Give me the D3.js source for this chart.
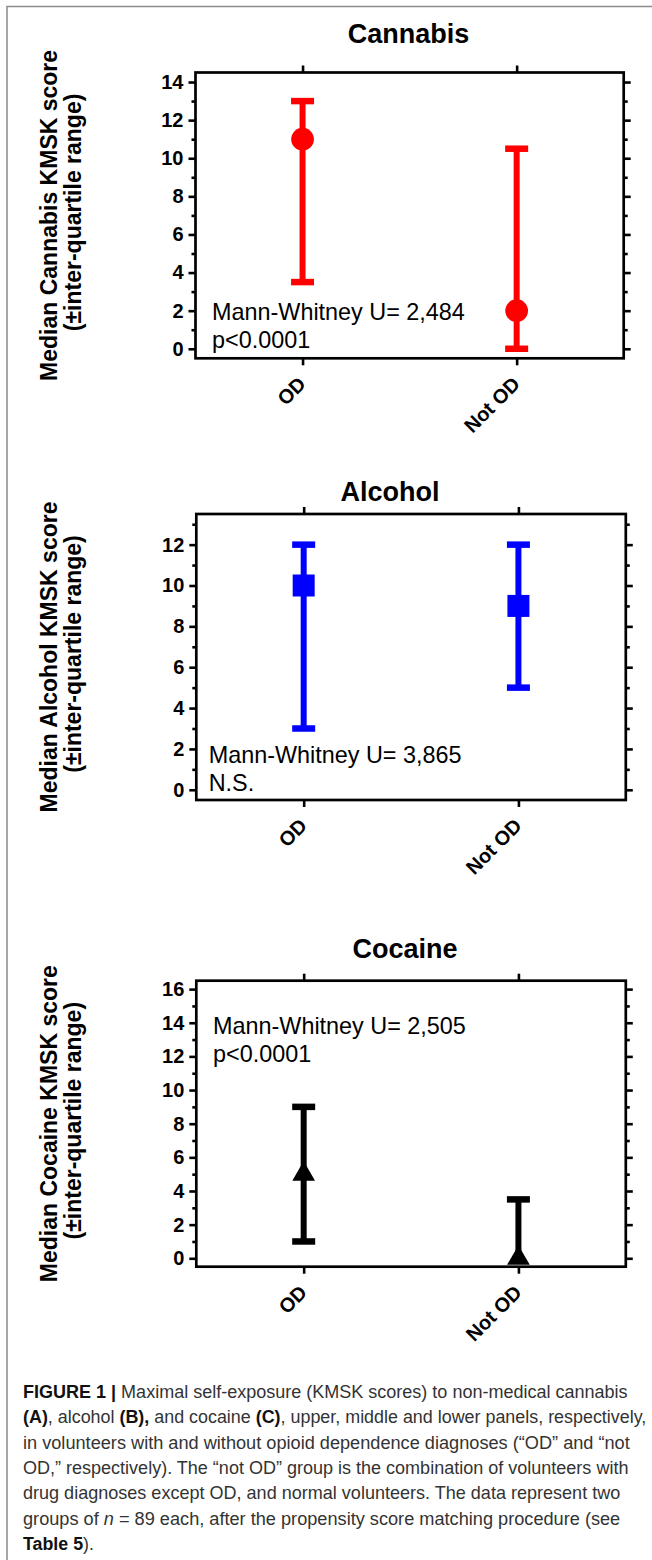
<!DOCTYPE html>
<html>
<head>
<meta charset="utf-8">
<script src="https://cdn.jsdelivr.net/npm/d3@7"></script>
<style>
  body { margin: 0; background: #fff; }
  svg { display: block; font-family: Arial, "Liberation Sans", sans-serif; }
</style>
</head>
<body>
<svg id="fig" width="652" height="1560"></svg>
<script>
// Groups on the x axis
const groups = ['OD', 'Not OD'];

// Median and inter-quartile range per group
const cannabisMedian = [11, 2];
const cannabisQ1 = [3.5, 0];
const cannabisQ3 = [13, 10.5];

const alcoholMedian = [10, 9];
const alcoholQ1 = [3, 5];
const alcoholQ3 = [12, 12];

const cocaineMedian = [5, 0];
const cocaineQ1 = [1, 0];
const cocaineQ3 = [9, 3.5];

// Labelled y ticks
const cannabisTicks = [0, 2, 4, 6, 8, 10, 12, 14];
const alcoholTicks = [0, 2, 4, 6, 8, 10, 12];
const cocaineTicks = [0, 2, 4, 6, 8, 10, 12, 14, 16];

// Statistics printed inside each panel
const cannabisStats = ['Mann-Whitney U= 2,484', 'p<0.0001'];
const alcoholStats = ['Mann-Whitney U= 3,865', 'N.S.'];
const cocaineStats = ['Mann-Whitney U= 2,505', 'p<0.0001'];

// Caption, one entry per line; b = bold, i = italic
const captionLines = [
    [['FIGURE 1 | ', 'b'], ['Maximal self-exposure (KMSK scores) to non-medical cannabis', '']],
    [['(A)', 'b'], [', alcohol ', ''], ['(B),', 'b'], [' and cocaine ', ''], ['(C)', 'b'], [', upper, middle and lower panels, respectively,', '']],
    [['in volunteers with and without opioid dependence diagnoses (\u201cOD\u201d and \u201cnot', '']],
    [['OD,\u201d respectively). The \u201cnot OD\u201d group is the combination of volunteers with', '']],
    [['drug diagnoses except OD, and normal volunteers. The data represent two', '']],
    [['groups of ', ''], ['n', 'i'], [' = 89 each, after the propensity score matching procedure (see', '']],
    [['Table 5', 'b'], [').', '']]
];

// Layout of the three panels
const panels = [
    {
        title: 'Cannabis', ylabel: 'Median Cannabis KMSK score',
        median: cannabisMedian, q1: cannabisQ1, q3: cannabisQ3, ticks: cannabisTicks, stats: cannabisStats,
        yMax: 14.5, left: 195.5, right: 623.7, top: 72.5, bottom: 358.3,
        titleX: 408.5, titleY: 43.3, statsX: 212, statsY: 320,
        color: '#ff0000', symbol: d3.symbolCircle, symbolSize: 405
    },
    {
        title: 'Alcohol', ylabel: 'Median Alcohol KMSK score',
        median: alcoholMedian, q1: alcoholQ1, q3: alcoholQ3, ticks: alcoholTicks, stats: alcoholStats,
        yMax: 13.5, left: 196.3, right: 625.8, top: 514, bottom: 800,
        titleX: 390, titleY: 501, statsX: 208.7, statsY: 763,
        color: '#0000ff', symbol: d3.symbolSquare, symbolSize: 484
    },
    {
        title: 'Cocaine', ylabel: 'Median Cocaine KMSK score',
        median: cocaineMedian, q1: cocaineQ1, q3: cocaineQ3, ticks: cocaineTicks, stats: cocaineStats,
        yMax: 16.5, left: 196.3, right: 625.8, top: 980.7, bottom: 1266.7,
        titleX: 405, titleY: 958.3, statsX: 213, statsY: 1034,
        color: '#000000', symbol: d3.symbolTriangle, symbolSize: 223
    }
];

const svg = d3.select('#fig');

// Grey figure frame (left and top edges)
svg.append('path')
    .attr('d', 'M7,1560V6.5H652')
    .attr('fill', 'none')
    .attr('stroke', '#8a8a8a')
    .attr('stroke-width', 1.5);

function styleTicks(a) {
    a.select('.domain').remove();
    a.selectAll('line').attr('stroke-width', 2.6);
}

panels.forEach(p => {
    const y = d3.scaleLinear().domain([-0.5, p.yMax]).range([p.bottom, p.top]);
    const x = d3.scalePoint().domain(groups).range([p.left, p.right]).padding(0.5);
    const minors = d3.range(1, p.yMax, 2);
    const g = svg.append('g');

    // Left axis with labels, plus minor ticks
    g.append('g')
        .attr('transform', `translate(${p.left},0)`)
        .call(d3.axisLeft(y).tickValues(p.ticks).tickSize(7).tickPadding(5))
        .call(styleTicks)
        .attr('font-size', 20)
        .attr('font-weight', 'bold')
        .attr('font-family', 'Arial, "Liberation Sans", sans-serif');
    g.append('g')
        .attr('transform', `translate(${p.left},0)`)
        .call(d3.axisLeft(y).tickValues(minors).tickSize(4).tickFormat(''))
        .call(styleTicks);

    // Right axis ticks only
    g.append('g')
        .attr('transform', `translate(${p.right},0)`)
        .call(d3.axisRight(y).tickValues(p.ticks).tickSize(7).tickFormat(''))
        .call(styleTicks);
    g.append('g')
        .attr('transform', `translate(${p.right},0)`)
        .call(d3.axisRight(y).tickValues(minors).tickSize(4).tickFormat(''))
        .call(styleTicks);

    // Top ticks
    g.append('g')
        .attr('transform', `translate(0,${p.top})`)
        .call(d3.axisTop(x).tickSize(7).tickFormat(''))
        .call(styleTicks);

    // Bottom ticks with slanted group names
    g.append('g')
        .attr('transform', `translate(0,${p.bottom})`)
        .call(d3.axisBottom(x).tickSize(7))
        .call(styleTicks)
        .attr('font-size', 20)
        .attr('font-weight', 'bold')
        .attr('font-family', 'Arial, "Liberation Sans", sans-serif')
        .selectAll('text')
        .attr('x', 0)
        .attr('y', 0)
        .attr('dy', 0)
        .attr('text-anchor', 'end')
        .attr('transform', 'translate(4,27) rotate(-45)');

    // Plot frame
    g.append('rect')
        .attr('x', p.left)
        .attr('y', p.top)
        .attr('width', p.right - p.left)
        .attr('height', p.bottom - p.top)
        .attr('fill', 'none')
        .attr('stroke', '#000')
        .attr('stroke-width', 2.7);

    // Error bars: median to each quartile, capped
    groups.forEach((grp, i) => {
        const cx = x(grp);
        const m = p.median[i];
        [p.q1[i], p.q3[i]].forEach(v => {
            if (v === m) return;
            g.append('line')
                .attr('x1', cx).attr('x2', cx)
                .attr('y1', y(m)).attr('y2', y(v))
                .attr('stroke', p.color)
                .attr('stroke-width', 6);
            g.append('line')
                .attr('x1', cx - 11.5).attr('x2', cx + 11.5)
                .attr('y1', y(v)).attr('y2', y(v))
                .attr('stroke', p.color)
                .attr('stroke-width', 6.5);
        });
        g.append('path')
            .attr('transform', `translate(${cx},${y(m)})`)
            .attr('d', d3.symbol().type(p.symbol).size(p.symbolSize)())
            .attr('fill', p.color);
    });

    // Panel title
    svg.append('text')
        .attr('x', p.titleX)
        .attr('y', p.titleY)
        .attr('text-anchor', 'middle')
        .attr('font-size', 27)
        .attr('font-weight', 'bold')
        .text(p.title);

    // Y axis title, two lines
    const cy = (p.top + p.bottom) / 2;
    svg.append('text')
        .attr('transform', `translate(57,${cy}) rotate(-90)`)
        .attr('text-anchor', 'middle')
        .attr('font-size', 23)
        .attr('font-weight', 'bold')
        .text(p.ylabel);
    svg.append('text')
        .attr('transform', `translate(81,${cy - 3}) rotate(-90)`)
        .attr('text-anchor', 'middle')
        .attr('font-size', 23)
        .attr('font-weight', 'bold')
        .text('(\u00b1inter-quartile range)');

    // Statistics
    p.stats.forEach((s, k) => {
        svg.append('text')
            .attr('x', p.statsX)
            .attr('y', p.statsY + k * 27.5)
            .attr('font-size', 23.4)
            .text(s);
    });
});

// Caption: the printed face is condensed, so each line is squeezed to its measured width
const captionWidths = [605, 624, 607, 606, 597.5, 597.5, 71];
const captionBase = [1398.3, 1423.3, 1449, 1474, 1499.3, 1525, 1550];
captionLines.forEach((line, i) => {
    const t = svg.append('text')
        .attr('font-size', 18.5)
        .attr('fill', '#333');
    line.forEach(([s, st]) => {
        t.append('tspan')
            .attr('font-weight', st === 'b' ? 'bold' : null)
            .attr('font-style', st === 'i' ? 'italic' : null)
            .attr('fill', st === 'b' ? '#111' : null)
            .text(s);
    });
    const natural = t.node().getComputedTextLength();
    t.attr('transform', `translate(23,${captionBase[i]}) scale(${captionWidths[i] / natural},1)`);
});
</script>
</body>
</html>
